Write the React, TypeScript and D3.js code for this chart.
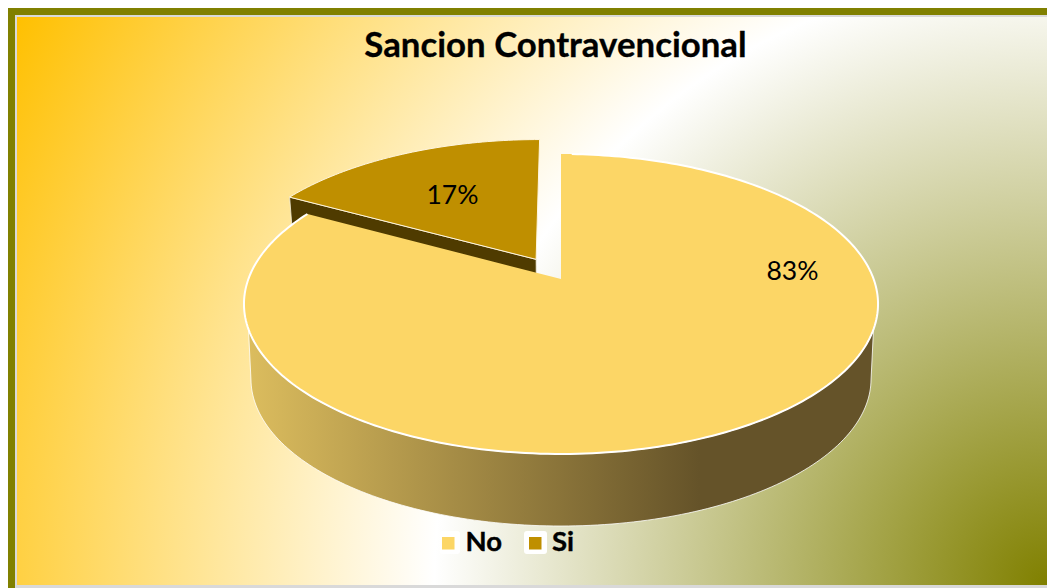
import React from "react";
import * as d3 from "d3";

const categories = ["No", "Si"];
const values = [83, 17];
const labels = ["83%", "17%"];
const sliceColors = ["#fcd666", "#bf8f00"];
const explode = [0, 0.16];
const titleText = "Sancion Contravencional";

const FONT = "Lato, Carlito, sans-serif";
const W = 1047;
const H = 588;

type Pt = [number, number];
const cx = 561;
const topPlane = { apexY: 279, S: 145.8, R: 312.6 };
const botPlane = { apexY: 354.4, S: 143, R: 305.7 };
const persp = 1 / 6;

function project(theta: number, r: number, plane: typeof topPlane, e = 0, mid = 0): Pt {
  const u = r * Math.sin(theta) + e * Math.sin(mid);
  const v = r * Math.cos(theta) + e * Math.cos(mid);
  const w = 1 + persp * v;
  return [cx + (plane.R * u) / w, plane.apexY - (plane.S * v) / w];
}

const rad = d3.scaleLinear().domain([0, 360]).range([0, 2 * Math.PI]);
const line = d3.line<Pt>();

function rim(a0: number, a1: number, plane: typeof topPlane, e = 0, mid = 0): Pt[] {
  const n = Math.max(8, Math.ceil(Math.abs(a1 - a0) / 0.02));
  return d3.range(n + 1).map((i) => project(a0 + ((a1 - a0) * i) / n, 1, plane, e, mid));
}

const arcs = d3.pie<number>().sort(null).startAngle(0).endAngle(2 * Math.PI)(values);

export default function App() {
  const no = arcs[0];
  const si = arcs[1];
  const siMid = (si.startAngle + si.endAngle) / 2;
  const siE = explode[1];

  const noTop = line([[cx, topPlane.apexY], ...rim(no.startAngle, no.endAngle, topPlane)])! + "Z";
  const siTop =
    line([project(0, 0, topPlane, siE, siMid), ...rim(si.startAngle, si.endAngle, topPlane, siE, siMid)])! + "Z";
  const siFace =
    line([
      project(0, 0, topPlane, siE, siMid),
      project(si.startAngle, 1, topPlane, siE, siMid),
      project(si.startAngle, 1, botPlane, siE, siMid),
      project(0, 0, botPlane, siE, siMid),
    ])! + "Z";
  const noSide =
    line([
      ...rim(rad(109), rad(251), topPlane),
      ...rim(rad(260), rad(100), botPlane),
    ])! + "Z";

  return (
    <svg
      width={W}
      height={H}
      style={{ position: "absolute", left: 0, top: 0, display: "block" }}
      viewBox={`0 0 ${W} ${H}`}
    >
      <defs>
        <radialGradient id="bg" gradientUnits="userSpaceOnUse" cx={1047} cy={585} r={1178}>
          <stop offset="0" stopColor="#808000" />
          <stop offset="0.52" stopColor="#ffffff" />
          <stop offset="1" stopColor="#ffc000" />
        </radialGradient>
        <linearGradient id="side" gradientUnits="userSpaceOnUse" x1={246} y1={0} x2={876} y2={0}>
          <stop offset="0" stopColor="#dcbd5e" />
          <stop offset="0.72" stopColor="#655329" />
          <stop offset="1" stopColor="#655329" />
        </linearGradient>
      </defs>

      <rect x={8} y={8} width={W - 8} height={H - 8} fill="#808000" />
      <rect x={15} y={15} width={W - 15} height={H - 15} fill="#d9d9d9" />
      <rect x={17} y={17} width={W - 17} height={568} fill="url(#bg)" />

      <text
        x={555.5}
        y={56.5}
        textAnchor="middle"
        fontFamily={FONT}
        fontWeight={700}
        fontSize={34.8}
        stroke="#000"
        strokeWidth={0.3}
        fill="#000"
      >
        {titleText}
      </text>

      <path d={siFace} fill="#4f3b00" stroke="#f4efdc" strokeWidth={0.8} />
      <path d={siTop} fill={sliceColors[1]} stroke="#fff6e0" strokeWidth={1} />
      <path d={noSide} fill="url(#side)" stroke="#fff" strokeWidth={0.8} />
      <path d={noTop} fill={sliceColors[0]} stroke="none" />
      <path d={line(rim(no.startAngle + 0.04, no.endAngle, topPlane))!} fill="none" stroke="#fff" strokeWidth={2} />

      <text x={792.5} y={279.5} textAnchor="middle" fontFamily={FONT} fontSize={26.5} fill="#000">
        {labels[0]}
      </text>
      <text x={452.5} y={203.5} textAnchor="middle" fontFamily={FONT} fontSize={26.5} fill="#000">
        {labels[1]}
      </text>

      {categories.map((c, i) => {
        const bx = i === 0 ? 440 : 524;
        return (
          <g key={c}>
            <rect x={bx} y={531} width={i === 0 ? 20 : 23} height={23} rx={3} fill="#fff" />
            <rect x={i === 0 ? 442 : 529} y={537} width={12.5} height={12.5} fill={sliceColors[i]} />
            <text
              x={i === 0 ? 465.5 : 552}
              y={551}
              fontFamily={FONT}
              fontWeight={700}
              fontSize={27.5}
              stroke="#000"
              strokeWidth={0.4}
              fill="#000"
            >
              {c}
            </text>
          </g>
        );
      })}
    </svg>
  );
}
